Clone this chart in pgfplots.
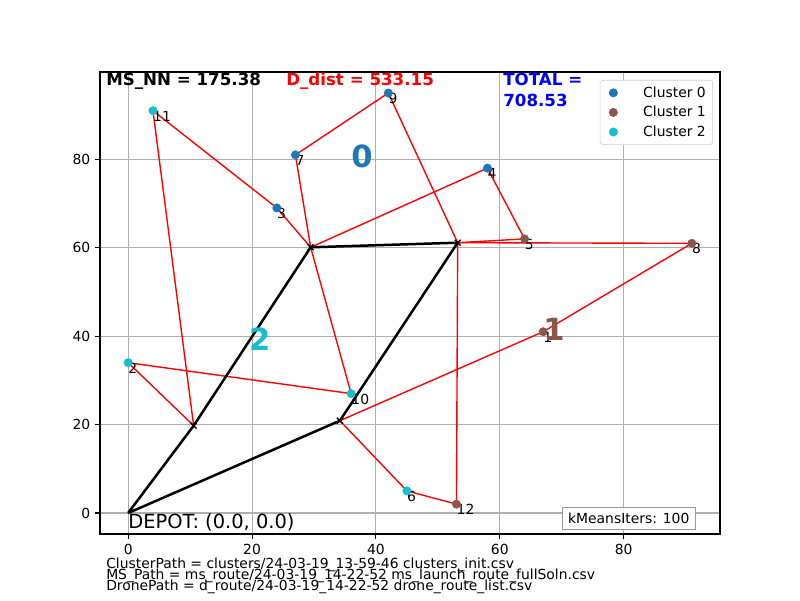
\documentclass[border=0pt]{standalone}
\usepackage{pgfplots}
\pgfplotsset{compat=1.18}
\usepackage{fontspec}
\setmainfont{DejaVu Sans}
\definecolor{c0}{HTML}{1F77B4}
\definecolor{c1}{HTML}{8C564B}
\definecolor{c2}{HTML}{17BECF}
\definecolor{gridc}{HTML}{B0B0B0}
\begin{document}
\begin{tikzpicture}[x=1pt,y=1pt]
\useasboundingbox (0,0) rectangle (576,432);
\begin{axis}[
  at={(72pt,47.52pt)}, anchor=south west,
  scale only axis, width=446.4pt, height=332.64pt,
  xmin=-4.55, xmax=95.55, ymin=-4.75, ymax=99.75,
  xtick={0,20,40,60,80}, ytick={0,20,40,60,80},
  xtick pos=bottom, ytick pos=left,
  tick align=outside, major tick length=3.5pt,
  every tick/.style={black, line width=0.8pt},
  axis line style={line width=0.8pt},
  tick label style={font=\fontsize{10}{12}\selectfont},
  /pgf/number format/assume math mode=true,
  grid=major, grid style={gridc, line width=0.8pt},
  legend style={at={(rel axis cs:0.9887,0.9827)}, anchor=north east,
    draw=black!20, rounded corners=2pt, fill=white,
    font=\fontsize{10}{12}\selectfont, inner xsep=3pt, inner ysep=2.5pt, row sep=1pt},
  legend image code/.code={\path[draw=none,fill=none] (0pt,-3pt) rectangle (26pt,3pt); \draw[#1] plot coordinates {(6.5pt,0pt)};},
  legend cell align=left,
  clip=false,
]
% scatter clusters
\addplot[only marks, mark=*, mark size=3pt, color=c0] coordinates {(24,69) (58,78) (27,81) (42,95)};
\addlegendentry{Cluster 0}
\addplot[only marks, mark=*, mark size=3pt, color=c1] coordinates {(67,41) (64,62) (91,61) (53,2)};
\addlegendentry{Cluster 1}
\addplot[only marks, mark=*, mark size=3pt, color=c2] coordinates {(0,34) (45,5) (36,27) (4,91)};
\addlegendentry{Cluster 2}
% drone routes
\addplot[red, line width=1pt, forget plot] coordinates {(10.57,19.75) (4,91) (24,69) (29.46,60.1)};
\addplot[red, line width=1pt, forget plot] coordinates {(10.57,19.75) (0,34) (36,27) (29.46,60.1)};
\addplot[red, line width=1pt, forget plot] coordinates {(29.46,60.1) (27,81) (42,95) (53.2,61.14)};
\addplot[red, line width=1pt, forget plot] coordinates {(29.46,60.1) (58,78) (64,62) (53.2,61.14)};
\addplot[red, line width=1pt, forget plot] coordinates {(53.2,61.14) (91,61) (67,41) (34.18,20.88)};
\addplot[red, line width=1pt, forget plot] coordinates {(53.2,61.14) (53,2) (45,5) (34.18,20.88)};
% main route
\addplot[black, line width=1.8pt, forget plot] coordinates {(0,0) (10.57,19.75) (29.46,60.1) (53.2,61.14) (34.18,20.88) (0,0)};
\addplot[only marks, mark=x, mark size=3pt, black, line width=1pt, forget plot] coordinates {(10.57,19.75) (29.46,60.1) (53.2,61.14) (34.18,20.88)};
% point labels
\begin{scope}[every node/.style={anchor=north west, inner sep=0pt, font=\fontsize{10}{12}\selectfont}]
\node at (axis cs:67,41) {1};
\node at (axis cs:0,34) {2};
\node at (axis cs:24,69) {3};
\node at (axis cs:58,78) {4};
\node at (axis cs:64,62) {5};
\node at (axis cs:45,5) {6};
\node at (axis cs:27,81) {7};
\node at (axis cs:91,61) {8};
\node at (axis cs:42,95) {9};
\node at (axis cs:36,27) {10};
\node at (axis cs:4,91) {11};
\node at (axis cs:53,2) {12};
\end{scope}
% cluster labels
\node[font=\fontsize{22}{26}\selectfont\bfseries, text=c0] at (axis cs:37.75,80.75) {0};
\node[font=\fontsize{22}{26}\selectfont\bfseries, text=c1] at (axis cs:68.75,41.5) {1};
\node[font=\fontsize{22}{26}\selectfont\bfseries, text=c2] at (axis cs:21.25,39.25) {2};
% depot
\node[anchor=north west, inner sep=0pt, font=\fontsize{14}{17}\selectfont] at (axis cs:0,0) {DEPOT: (0.0, 0.0)};
% kmeans box
\node[draw=black!40, fill=white, anchor=south east, inner xsep=4pt, inner ysep=4pt, font=\fontsize{10}{12}\selectfont] at (rel axis cs:0.96,0.009) {kMeansIters: 100};
\end{axis}
% top texts
\node[anchor=base west, inner sep=0pt, font=\fontsize{12}{14}\selectfont\bfseries] at (76.3,370.1) {MS\_NN = 175.38};
\node[anchor=base west, inner sep=0pt, font=\fontsize{12}{14}\selectfont\bfseries, text=red] at (205.9,370.1) {D\_dist = 533.15};
\node[anchor=base west, inner sep=0pt, font=\fontsize{12}{14}\selectfont\bfseries, text=blue] at (362.2,370.1) {TOTAL =};
\node[anchor=base west, inner sep=0pt, font=\fontsize{12}{14}\selectfont\bfseries, text=blue] at (362.2,355.0) {708.53};
% bottom texts
\node[anchor=base west, inner sep=0pt, font=\fontsize{10}{12}\selectfont] at (76.3,23.0) {ClusterPath = clusters/24-03-19\_13-59-46 clusters\_init.csv};
\node[anchor=base west, inner sep=0pt, font=\fontsize{10}{12}\selectfont] at (76.3,15.1) {MS\_Path = ms\_route/24-03-19\_14-22-52 ms\_launch\_route\_fullSoln.csv};
\node[anchor=base west, inner sep=0pt, font=\fontsize{10}{12}\selectfont] at (76.3,7.2) {DronePath = d\_route/24-03-19\_14-22-52 drone\_route\_list.csv};
\end{tikzpicture}
\end{document}
